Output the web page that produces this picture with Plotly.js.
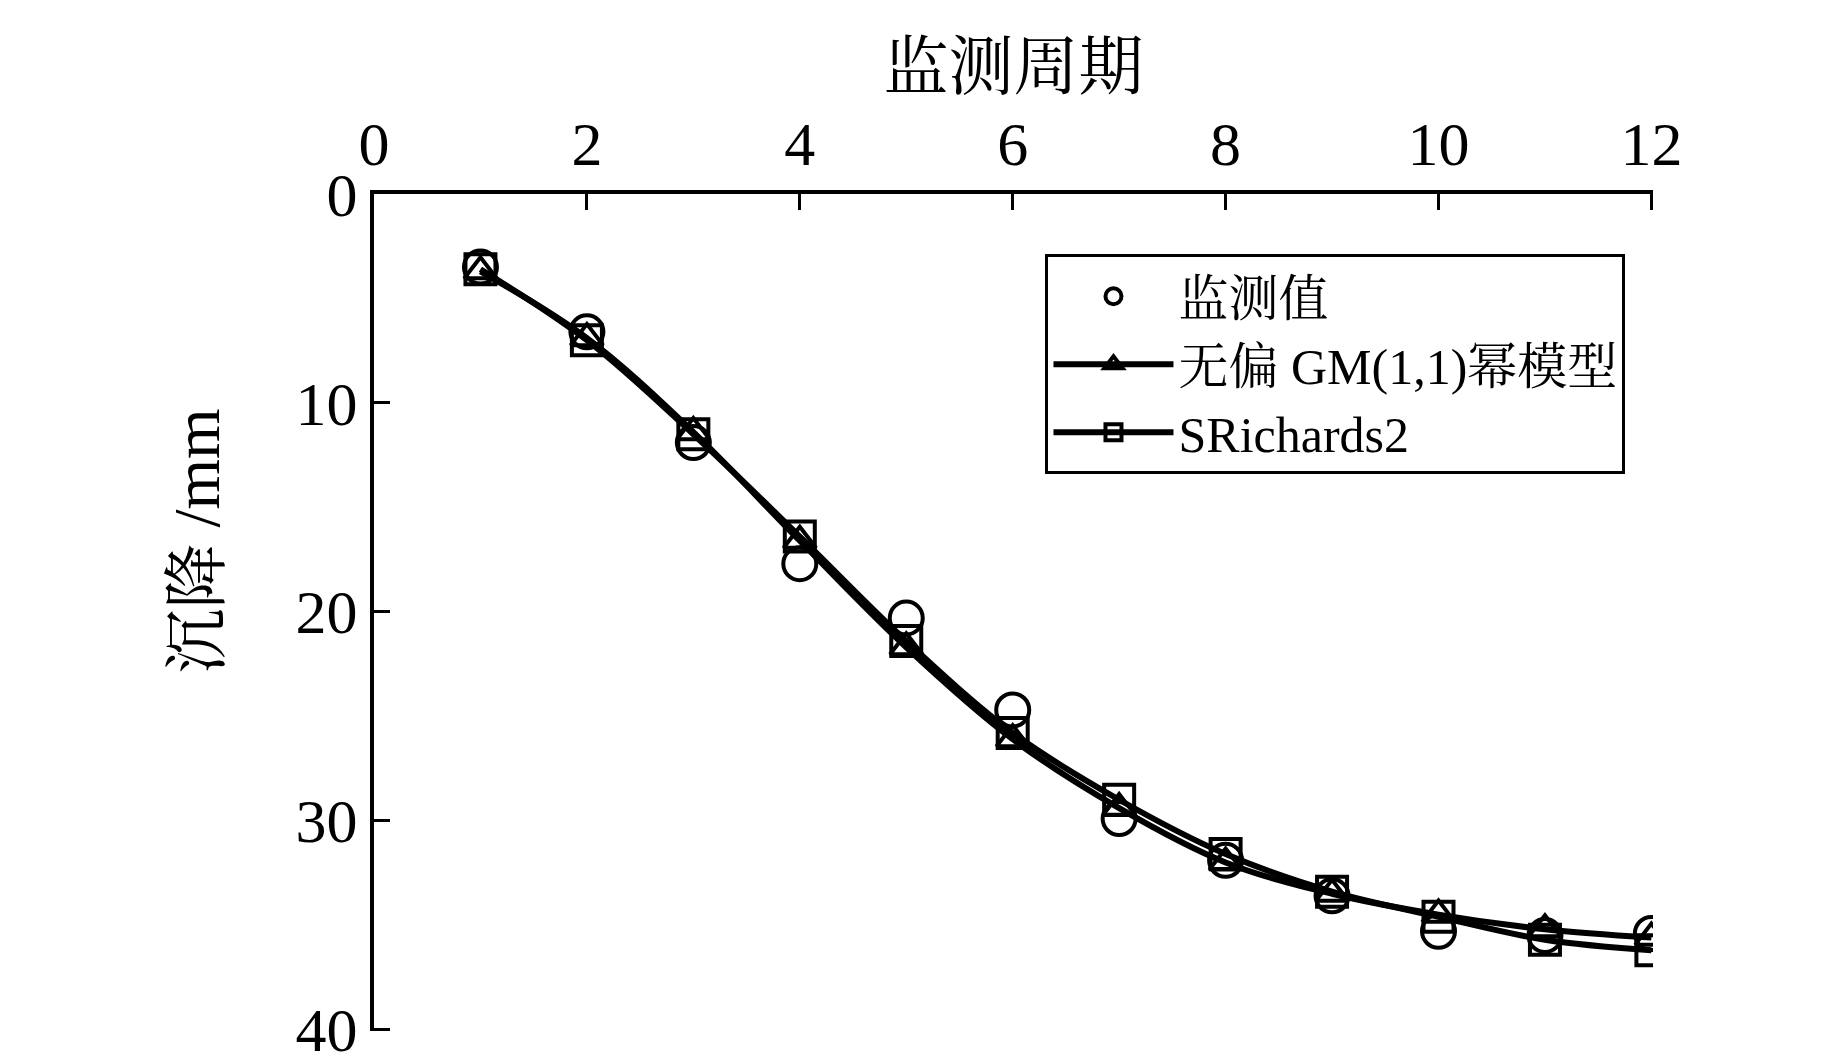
<!DOCTYPE html>
<html>
<head>
<meta charset="utf-8">
<script src="https://cdn.plot.ly/plotly-3.0.1.min.js"></script>
<style>html,body{margin:0;padding:0;background:#fff;}#chart{width:1843px;height:1063px;}</style>
</head>
<body>
<div id="chart"></div>
<script>
// Data
var periods = [1, 2, 3, 4, 5, 6, 7, 8, 9, 10, 11, 12];
var observed = [3.5, 6.6, 11.9, 17.7, 20.3, 24.7, 29.9, 31.9, 33.6, 35.3, 35.5, 35.4];
var gmPower = [3.7, 6.9, 11.4, 16.6, 21.7, 26.1, 29.4, 32.0, 33.5, 34.5, 35.2, 35.6];
var sRichards2 = [3.6, 7.0, 11.5, 16.4, 21.4, 25.8, 29.0, 31.6, 33.4, 34.6, 35.7, 36.2];
var seriesNames = ['监测值', '无偏 GM(1,1)幂模型', 'SRichards2'];
var xTickVals = [0, 2, 4, 6, 8, 10, 12];
var yTickVals = [0, 10, 20, 30, 40];
var xTitle = '监测周期';
var yTitle = '沉降 /mm';

var FONT = "'Liberation Serif', 'Times New Roman', 'Noto Serif CJK SC', 'Noto Sans CJK SC', serif";

var traces = [
  {
    x: periods, y: observed, name: seriesNames[0], mode: 'markers', type: 'scatter',
    marker: {symbol: 'circle-open', size: 33, color: '#000', line: {width: 4, color: '#000'}}
  },
  {
    x: periods, y: gmPower, name: seriesNames[1], mode: 'lines+markers', type: 'scatter',
    line: {color: '#000', width: 6, shape: 'spline', smoothing: 1},
    marker: {symbol: 'triangle-up-open', size: 28, color: '#000', line: {width: 4, color: '#000'}}
  },
  {
    x: periods, y: sRichards2, name: seriesNames[2], mode: 'lines+markers', type: 'scatter',
    line: {color: '#000', width: 6, shape: 'spline', smoothing: 1},
    marker: {symbol: 'square-open', size: 30, color: '#000', line: {width: 4, color: '#000'}}
  }
];

var layout = {
  width: 1843, height: 1063,
  paper_bgcolor: '#fff', plot_bgcolor: '#fff',
  margin: {l: 374, r: 190, t: 194, b: 32, pad: 0},
  font: {family: FONT, color: '#000', size: 62},
  showlegend: true,
  legend: {
    x: 0.525, y: 0.928, xanchor: 'left', yanchor: 'top',
    bgcolor: '#fff', bordercolor: '#000', borderwidth: 3,
    font: {family: FONT, size: 50, color: '#000'},
    itemwidth: 120,
    tracegroupgap: 0
  },
  xaxis: {
    side: 'top', range: [0, 12.015], tickvals: xTickVals, ticktext: xTickVals.map(String),
    showline: true, linecolor: '#000', linewidth: 4, mirror: false,
    ticks: 'inside', ticklen: 16, tickwidth: 3, tickcolor: '#000',
    showgrid: false, zeroline: false, ticklabeloverflow: 'allow',
    tickfont: {family: FONT, size: 62, color: '#000'},
    title: {text: xTitle, font: {family: FONT, size: 65, color: '#000'}, standoff: 0},
    automargin: false
  },
  yaxis: {
    autorange: false, range: [40.07, 0], tickvals: yTickVals, ticktext: yTickVals.map(String),
    showline: true, linecolor: '#000', linewidth: 4, mirror: false,
    ticks: 'inside', ticklen: 16, tickwidth: 3, tickcolor: '#000',
    showgrid: false, zeroline: false, ticklabeloverflow: 'allow',
    tickfont: {family: FONT, size: 62, color: '#000'},
    automargin: false
  },
  annotations: [
    {
      text: yTitle, xref: 'paper', yref: 'paper', x: -0.138, y: 0.585,
      xanchor: 'center', yanchor: 'middle', textangle: -90, showarrow: false,
      font: {family: FONT, size: 65, color: '#000'}
    }
  ]
};

Plotly.newPlot('chart', traces, layout, {displayModeBar: false, staticPlot: true});
</script>
</body>
</html>
